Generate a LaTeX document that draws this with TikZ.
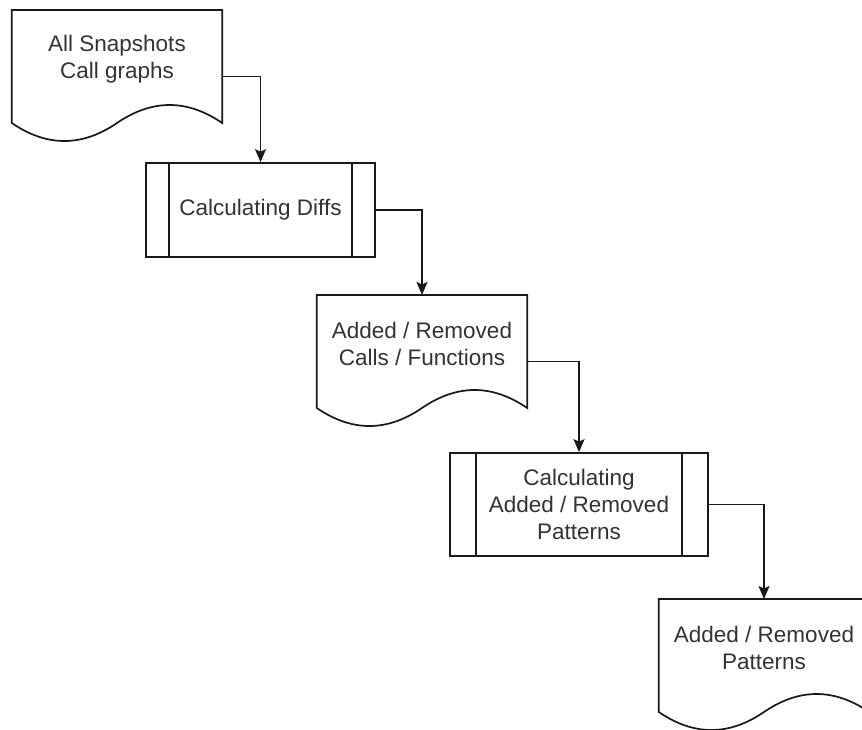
\documentclass[tikz,border=0pt]{standalone}
\usepackage{fontspec}
\setmainfont{Liberation Sans}
\usetikzlibrary{arrows.meta,calc}

% Dokument-Umriss mit Welle unten, dazu Ausgangspunkt rechts
\newcommand{\dokument}[1]{%
  \draw[linie] (#1.north west) -- (#1.north east) -- ($(#1.north east)+(0,113)$)
    .. controls ($(#1.north west)!0.8333!(#1.north east)+(0,89)$) and ($(#1.north west)!0.6667!(#1.north east)+(0,89)$) .. ($(#1.north west)!0.5!(#1.north east)+(0,113)$)
    .. controls ($(#1.north west)!0.3333!(#1.north east)+(0,137)$) and ($(#1.north west)!0.1667!(#1.north east)+(0,137)$) .. ($(#1.north west)+(0,113)$) -- cycle;
  \coordinate (#1 aus) at ($(#1.north east)+(0,66.5)$);}

\begin{document}
\begin{tikzpicture}[x=1pt, y=-1pt,
    >={Stealth[length=13pt,width=11pt,inset=2.5pt]},   %Pfeilspitzen
    font=\fontsize{22.5}{27}\selectfont,
    linie/.style={line width=1.7pt, black!90},
    pfeil/.style={linie, ->},
    dok/.style={anchor=north, minimum width=210pt, minimum height=97pt, inner sep=0pt, align=center, text=black!80},
    prozess/.style={draw=black!90, line width=1.7pt, inner sep=0pt, align=center, text=black!80,
      path picture={\draw[linie]
        ($(path picture bounding box.north west)!0.1!(path picture bounding box.north east)$) -- ($(path picture bounding box.south west)!0.1!(path picture bounding box.south east)$)
        ($(path picture bounding box.north west)!0.9!(path picture bounding box.north east)$) -- ($(path picture bounding box.south west)!0.9!(path picture bounding box.south east)$);}}]
    %Bildbereich
    \fill[white] (0,0) rectangle (862,729);
    \useasboundingbox (0,0) rectangle (862,729);
    % Dokumente und Prozesse
    \node[dok] (alle) at (117,10) {All Snapshots\\Call graphs};
    \dokument{alle}
    \node[prozess, minimum width=229pt, minimum height=94pt] (diffs) at (260.5,210) {Calculating Diffs};
    \node[dok] (aufrufe) at (422,295) {Added / Removed\\Calls / Functions};
    \dokument{aufrufe}
    \node[prozess, minimum width=258pt, minimum height=103pt] (muster) at (579,504.5) {Calculating\\Added / Removed\\Patterns};
    \node[dok] (ergebnis) at (764,599) {Added / Removed\\Patterns};
    \dokument{ergebnis}
    % Pfeile
    \draw[pfeil] (alle aus) -| (diffs.north);
    \draw[pfeil] (diffs.east) -| (aufrufe.north);
    \draw[pfeil] (aufrufe aus) -| (muster.north);
    \draw[pfeil] (muster.east) -| (ergebnis.north);
\end{tikzpicture}
\end{document}
